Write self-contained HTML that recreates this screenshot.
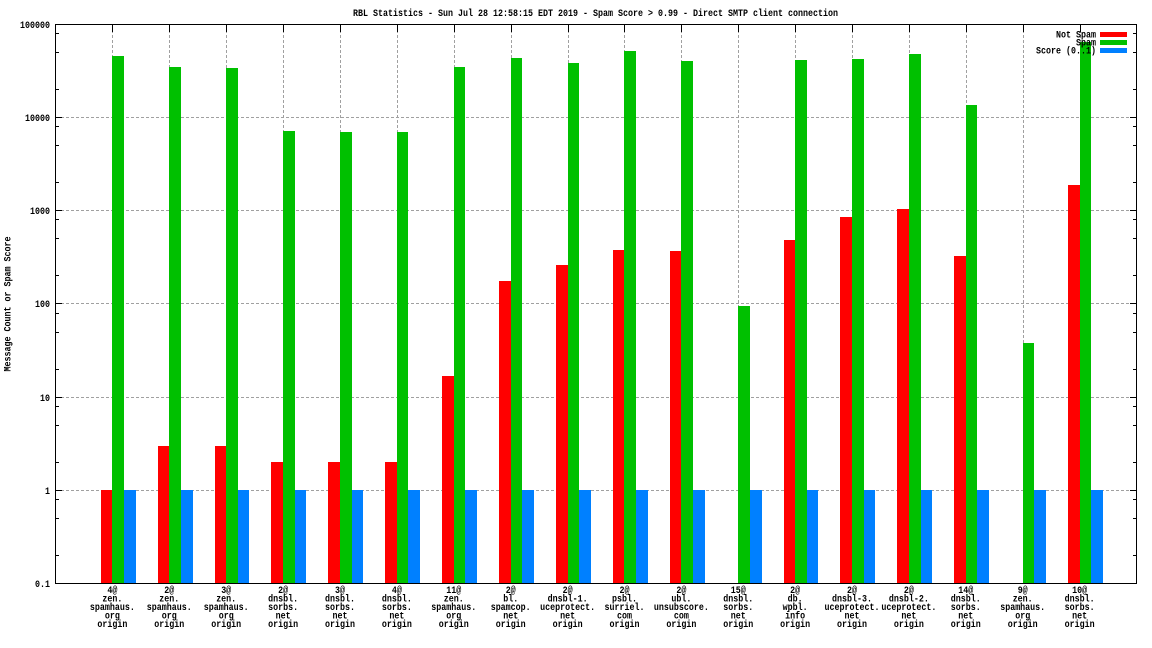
<!DOCTYPE html>
<html><head><meta charset="utf-8"><style>
html,body{margin:0;padding:0;background:#fff;}
svg{display:block;}
text{font-family:"Liberation Mono","DejaVu Sans Mono",monospace;font-size:10.5px;font-weight:bold;fill:#000;}
</style></head><body>
<svg width="1152" height="648" viewBox="0 0 1152 648" xmlns="http://www.w3.org/2000/svg">
<rect x="0" y="0" width="1152" height="648" fill="#fff"/>
<text x="353" y="16" textLength="485" lengthAdjust="spacingAndGlyphs">RBL Statistics - Sun Jul 28 12:58:15 EDT 2019 - Spam Score &gt; 0.99 - Direct SMTP client connection</text>
<text transform="translate(10.5,304) rotate(-90)" text-anchor="middle" textLength="135" lengthAdjust="spacingAndGlyphs">Message Count or Spam Score</text>
<g stroke="#a0a0a0" stroke-width="1" stroke-dasharray="3,2" shape-rendering="crispEdges" fill="none">
<path d="M56 117.5H1136M56 210.5H1136M56 303.5H1136M56 397.5H1136M56 490.5H1136"/>
<path d="M112.5 25V583M169.5 25V583M226.5 25V583M283.5 25V583M340.5 25V583M397.5 25V583M454.5 25V583M511.5 25V583M568.5 25V583M624.5 25V583M681.5 25V583M738.5 25V583M795.5 25V583M852.5 25V583M909.5 25V583M966.5 25V583M1023.5 25V583M1080.5 25V583"/>
</g>
<g stroke="#000" stroke-width="1" shape-rendering="crispEdges" fill="none">
<path d="M55 117.5h7M55 210.5h7M55 303.5h7M55 397.5h7M55 490.5h7M1137 117.5h-7M1137 210.5h-7M1137 303.5h-7M1137 397.5h-7M1137 490.5h-7"/>
<path d="M55 555.5h4M55 518.5h4M55 499.5h4M55 462.5h4M55 425.5h4M55 406.5h4M55 369.5h4M55 332.5h4M55 313.5h4M55 275.5h4M55 238.5h4M55 219.5h4M55 182.5h4M55 145.5h4M55 126.5h4M55 89.5h4M55 52.5h4M55 33.5h4"/>
<path d="M1137 555.5h-4M1137 518.5h-4M1137 499.5h-4M1137 462.5h-4M1137 425.5h-4M1137 406.5h-4M1137 369.5h-4M1137 332.5h-4M1137 313.5h-4M1137 275.5h-4M1137 238.5h-4M1137 219.5h-4M1137 182.5h-4M1137 145.5h-4M1137 126.5h-4M1137 89.5h-4M1137 52.5h-4M1137 33.5h-4"/>
<path d="M112.5 24v8M169.5 24v8M226.5 24v8M283.5 24v8M340.5 24v8M397.5 24v8M454.5 24v8M511.5 24v8M568.5 24v8M624.5 24v8M681.5 24v8M738.5 24v8M795.5 24v8M852.5 24v8M909.5 24v8M966.5 24v8M1023.5 24v8M1080.5 24v8"/>
<path d="M112.5 583v-8M169.5 583v-8M226.5 583v-8M283.5 583v-8M340.5 583v-8M397.5 583v-8M454.5 583v-8M511.5 583v-8M568.5 583v-8M624.5 583v-8M681.5 583v-8M738.5 583v-8M795.5 583v-8M852.5 583v-8M909.5 583v-8M966.5 583v-8M1023.5 583v-8M1080.5 583v-8"/>
</g>
<g shape-rendering="crispEdges">
<g fill="#ff0000">
<rect x="101" y="490" width="11" height="93"/>
<rect x="158" y="446" width="11" height="137"/>
<rect x="215" y="446" width="11" height="137"/>
<rect x="271" y="462" width="12" height="121"/>
<rect x="328" y="462" width="12" height="121"/>
<rect x="385" y="462" width="12" height="121"/>
<rect x="442" y="376" width="12" height="207"/>
<rect x="499" y="281" width="12" height="302"/>
<rect x="556" y="265" width="12" height="318"/>
<rect x="613" y="250" width="11" height="333"/>
<rect x="670" y="251" width="11" height="332"/>
<rect x="784" y="240" width="11" height="343"/>
<rect x="840" y="217" width="12" height="366"/>
<rect x="897" y="209" width="12" height="374"/>
<rect x="954" y="256" width="12" height="327"/>
<rect x="1068" y="185" width="12" height="398"/>
</g>
<g fill="#00c000">
<rect x="112" y="56" width="12" height="527"/>
<rect x="169" y="67" width="12" height="516"/>
<rect x="226" y="68" width="12" height="515"/>
<rect x="283" y="131" width="12" height="452"/>
<rect x="340" y="132" width="12" height="451"/>
<rect x="397" y="132" width="11" height="451"/>
<rect x="454" y="67" width="11" height="516"/>
<rect x="511" y="58" width="11" height="525"/>
<rect x="568" y="63" width="11" height="520"/>
<rect x="624" y="51" width="12" height="532"/>
<rect x="681" y="61" width="12" height="522"/>
<rect x="738" y="306" width="12" height="277"/>
<rect x="795" y="60" width="12" height="523"/>
<rect x="852" y="59" width="12" height="524"/>
<rect x="909" y="54" width="12" height="529"/>
<rect x="966" y="105" width="11" height="478"/>
<rect x="1023" y="343" width="11" height="240"/>
<rect x="1080" y="42" width="11" height="541"/>
</g>
<g fill="#0080ff">
<rect x="124" y="490" width="12" height="93"/>
<rect x="181" y="490" width="12" height="93"/>
<rect x="238" y="490" width="11" height="93"/>
<rect x="295" y="490" width="11" height="93"/>
<rect x="352" y="490" width="11" height="93"/>
<rect x="408" y="490" width="12" height="93"/>
<rect x="465" y="490" width="12" height="93"/>
<rect x="522" y="490" width="12" height="93"/>
<rect x="579" y="490" width="12" height="93"/>
<rect x="636" y="490" width="12" height="93"/>
<rect x="693" y="490" width="12" height="93"/>
<rect x="750" y="490" width="12" height="93"/>
<rect x="807" y="490" width="11" height="93"/>
<rect x="864" y="490" width="11" height="93"/>
<rect x="921" y="490" width="11" height="93"/>
<rect x="977" y="490" width="12" height="93"/>
<rect x="1034" y="490" width="12" height="93"/>
<rect x="1091" y="490" width="12" height="93"/>
</g>
</g>
<rect x="55.5" y="24.5" width="1081" height="559" fill="none" stroke="#000" stroke-width="1" shape-rendering="crispEdges"/>
<g text-anchor="end">
<text x="50" y="28" textLength="30" lengthAdjust="spacingAndGlyphs">100000</text>
<text x="50" y="121" textLength="25" lengthAdjust="spacingAndGlyphs">10000</text>
<text x="50" y="214" textLength="20" lengthAdjust="spacingAndGlyphs">1000</text>
<text x="50" y="307" textLength="15" lengthAdjust="spacingAndGlyphs">100</text>
<text x="50" y="401" textLength="10" lengthAdjust="spacingAndGlyphs">10</text>
<text x="50" y="494" textLength="5" lengthAdjust="spacingAndGlyphs">1</text>
<text x="50" y="587" textLength="15" lengthAdjust="spacingAndGlyphs">0.1</text>
</g>
<g text-anchor="end">
<text x="1096" y="37.5" textLength="40" lengthAdjust="spacingAndGlyphs">Not Spam</text>
<text x="1096" y="45.5" textLength="20" lengthAdjust="spacingAndGlyphs">Spam</text>
<text x="1096" y="53.5" textLength="60" lengthAdjust="spacingAndGlyphs">Score (0..1)</text>
</g>
<g shape-rendering="crispEdges">
<rect x="1100" y="32" width="27" height="5" fill="#ff0000"/>
<rect x="1100" y="40" width="27" height="5" fill="#00c000"/>
<rect x="1100" y="48" width="27" height="5" fill="#0080ff"/>
</g>
<g text-anchor="middle">
<text x="112.4" y="593" textLength="10" lengthAdjust="spacingAndGlyphs">4@</text>
<text x="112.4" y="601.5" textLength="20" lengthAdjust="spacingAndGlyphs">zen.</text>
<text x="112.4" y="610" textLength="45" lengthAdjust="spacingAndGlyphs">spamhaus.</text>
<text x="112.4" y="618.5" textLength="15" lengthAdjust="spacingAndGlyphs">org</text>
<text x="112.4" y="627" textLength="30" lengthAdjust="spacingAndGlyphs">origin</text>

<text x="169.3" y="593" textLength="10" lengthAdjust="spacingAndGlyphs">2@</text>
<text x="169.3" y="601.5" textLength="20" lengthAdjust="spacingAndGlyphs">zen.</text>
<text x="169.3" y="610" textLength="45" lengthAdjust="spacingAndGlyphs">spamhaus.</text>
<text x="169.3" y="618.5" textLength="15" lengthAdjust="spacingAndGlyphs">org</text>
<text x="169.3" y="627" textLength="30" lengthAdjust="spacingAndGlyphs">origin</text>

<text x="226.2" y="593" textLength="10" lengthAdjust="spacingAndGlyphs">3@</text>
<text x="226.2" y="601.5" textLength="20" lengthAdjust="spacingAndGlyphs">zen.</text>
<text x="226.2" y="610" textLength="45" lengthAdjust="spacingAndGlyphs">spamhaus.</text>
<text x="226.2" y="618.5" textLength="15" lengthAdjust="spacingAndGlyphs">org</text>
<text x="226.2" y="627" textLength="30" lengthAdjust="spacingAndGlyphs">origin</text>

<text x="283.1" y="593" textLength="10" lengthAdjust="spacingAndGlyphs">2@</text>
<text x="283.1" y="601.5" textLength="30" lengthAdjust="spacingAndGlyphs">dnsbl.</text>
<text x="283.1" y="610" textLength="30" lengthAdjust="spacingAndGlyphs">sorbs.</text>
<text x="283.1" y="618.5" textLength="15" lengthAdjust="spacingAndGlyphs">net</text>
<text x="283.1" y="627" textLength="30" lengthAdjust="spacingAndGlyphs">origin</text>

<text x="340" y="593" textLength="10" lengthAdjust="spacingAndGlyphs">3@</text>
<text x="340" y="601.5" textLength="30" lengthAdjust="spacingAndGlyphs">dnsbl.</text>
<text x="340" y="610" textLength="30" lengthAdjust="spacingAndGlyphs">sorbs.</text>
<text x="340" y="618.5" textLength="15" lengthAdjust="spacingAndGlyphs">net</text>
<text x="340" y="627" textLength="30" lengthAdjust="spacingAndGlyphs">origin</text>

<text x="396.9" y="593" textLength="10" lengthAdjust="spacingAndGlyphs">4@</text>
<text x="396.9" y="601.5" textLength="30" lengthAdjust="spacingAndGlyphs">dnsbl.</text>
<text x="396.9" y="610" textLength="30" lengthAdjust="spacingAndGlyphs">sorbs.</text>
<text x="396.9" y="618.5" textLength="15" lengthAdjust="spacingAndGlyphs">net</text>
<text x="396.9" y="627" textLength="30" lengthAdjust="spacingAndGlyphs">origin</text>

<text x="453.8" y="593" textLength="15" lengthAdjust="spacingAndGlyphs">11@</text>
<text x="453.8" y="601.5" textLength="20" lengthAdjust="spacingAndGlyphs">zen.</text>
<text x="453.8" y="610" textLength="45" lengthAdjust="spacingAndGlyphs">spamhaus.</text>
<text x="453.8" y="618.5" textLength="15" lengthAdjust="spacingAndGlyphs">org</text>
<text x="453.8" y="627" textLength="30" lengthAdjust="spacingAndGlyphs">origin</text>

<text x="510.7" y="593" textLength="10" lengthAdjust="spacingAndGlyphs">2@</text>
<text x="510.7" y="601.5" textLength="15" lengthAdjust="spacingAndGlyphs">bl.</text>
<text x="510.7" y="610" textLength="40" lengthAdjust="spacingAndGlyphs">spamcop.</text>
<text x="510.7" y="618.5" textLength="15" lengthAdjust="spacingAndGlyphs">net</text>
<text x="510.7" y="627" textLength="30" lengthAdjust="spacingAndGlyphs">origin</text>

<text x="567.6" y="593" textLength="10" lengthAdjust="spacingAndGlyphs">2@</text>
<text x="567.6" y="601.5" textLength="40" lengthAdjust="spacingAndGlyphs">dnsbl-1.</text>
<text x="567.6" y="610" textLength="55" lengthAdjust="spacingAndGlyphs">uceprotect.</text>
<text x="567.6" y="618.5" textLength="15" lengthAdjust="spacingAndGlyphs">net</text>
<text x="567.6" y="627" textLength="30" lengthAdjust="spacingAndGlyphs">origin</text>

<text x="624.5" y="593" textLength="10" lengthAdjust="spacingAndGlyphs">2@</text>
<text x="624.5" y="601.5" textLength="25" lengthAdjust="spacingAndGlyphs">psbl.</text>
<text x="624.5" y="610" textLength="40" lengthAdjust="spacingAndGlyphs">surriel.</text>
<text x="624.5" y="618.5" textLength="15" lengthAdjust="spacingAndGlyphs">com</text>
<text x="624.5" y="627" textLength="30" lengthAdjust="spacingAndGlyphs">origin</text>

<text x="681.4" y="593" textLength="10" lengthAdjust="spacingAndGlyphs">2@</text>
<text x="681.4" y="601.5" textLength="20" lengthAdjust="spacingAndGlyphs">ubl.</text>
<text x="681.4" y="610" textLength="55" lengthAdjust="spacingAndGlyphs">unsubscore.</text>
<text x="681.4" y="618.5" textLength="15" lengthAdjust="spacingAndGlyphs">com</text>
<text x="681.4" y="627" textLength="30" lengthAdjust="spacingAndGlyphs">origin</text>

<text x="738.3" y="593" textLength="15" lengthAdjust="spacingAndGlyphs">15@</text>
<text x="738.3" y="601.5" textLength="30" lengthAdjust="spacingAndGlyphs">dnsbl.</text>
<text x="738.3" y="610" textLength="30" lengthAdjust="spacingAndGlyphs">sorbs.</text>
<text x="738.3" y="618.5" textLength="15" lengthAdjust="spacingAndGlyphs">net</text>
<text x="738.3" y="627" textLength="30" lengthAdjust="spacingAndGlyphs">origin</text>

<text x="795.1" y="593" textLength="10" lengthAdjust="spacingAndGlyphs">2@</text>
<text x="795.1" y="601.5" textLength="15" lengthAdjust="spacingAndGlyphs">db.</text>
<text x="795.1" y="610" textLength="25" lengthAdjust="spacingAndGlyphs">wpbl.</text>
<text x="795.1" y="618.5" textLength="20" lengthAdjust="spacingAndGlyphs">info</text>
<text x="795.1" y="627" textLength="30" lengthAdjust="spacingAndGlyphs">origin</text>

<text x="852" y="593" textLength="10" lengthAdjust="spacingAndGlyphs">2@</text>
<text x="852" y="601.5" textLength="40" lengthAdjust="spacingAndGlyphs">dnsbl-3.</text>
<text x="852" y="610" textLength="55" lengthAdjust="spacingAndGlyphs">uceprotect.</text>
<text x="852" y="618.5" textLength="15" lengthAdjust="spacingAndGlyphs">net</text>
<text x="852" y="627" textLength="30" lengthAdjust="spacingAndGlyphs">origin</text>

<text x="908.9" y="593" textLength="10" lengthAdjust="spacingAndGlyphs">2@</text>
<text x="908.9" y="601.5" textLength="40" lengthAdjust="spacingAndGlyphs">dnsbl-2.</text>
<text x="908.9" y="610" textLength="55" lengthAdjust="spacingAndGlyphs">uceprotect.</text>
<text x="908.9" y="618.5" textLength="15" lengthAdjust="spacingAndGlyphs">net</text>
<text x="908.9" y="627" textLength="30" lengthAdjust="spacingAndGlyphs">origin</text>

<text x="965.8" y="593" textLength="15" lengthAdjust="spacingAndGlyphs">14@</text>
<text x="965.8" y="601.5" textLength="30" lengthAdjust="spacingAndGlyphs">dnsbl.</text>
<text x="965.8" y="610" textLength="30" lengthAdjust="spacingAndGlyphs">sorbs.</text>
<text x="965.8" y="618.5" textLength="15" lengthAdjust="spacingAndGlyphs">net</text>
<text x="965.8" y="627" textLength="30" lengthAdjust="spacingAndGlyphs">origin</text>

<text x="1022.7" y="593" textLength="10" lengthAdjust="spacingAndGlyphs">9@</text>
<text x="1022.7" y="601.5" textLength="20" lengthAdjust="spacingAndGlyphs">zen.</text>
<text x="1022.7" y="610" textLength="45" lengthAdjust="spacingAndGlyphs">spamhaus.</text>
<text x="1022.7" y="618.5" textLength="15" lengthAdjust="spacingAndGlyphs">org</text>
<text x="1022.7" y="627" textLength="30" lengthAdjust="spacingAndGlyphs">origin</text>

<text x="1079.6" y="593" textLength="15" lengthAdjust="spacingAndGlyphs">10@</text>
<text x="1079.6" y="601.5" textLength="30" lengthAdjust="spacingAndGlyphs">dnsbl.</text>
<text x="1079.6" y="610" textLength="30" lengthAdjust="spacingAndGlyphs">sorbs.</text>
<text x="1079.6" y="618.5" textLength="15" lengthAdjust="spacingAndGlyphs">net</text>
<text x="1079.6" y="627" textLength="30" lengthAdjust="spacingAndGlyphs">origin</text>
</g>
</svg>
</body></html>
